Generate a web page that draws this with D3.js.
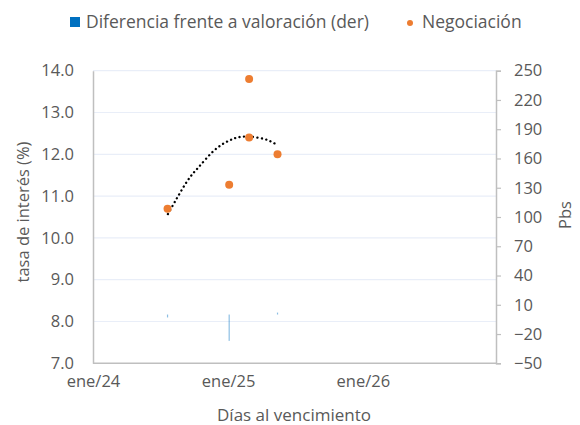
<!DOCTYPE html>
<html>
<head>
<meta charset="utf-8">
<script src="https://cdn.jsdelivr.net/npm/d3@7"></script>
<style>
body { margin: 0; background: #fff; }
text { font-family: "Open Sans", sans-serif; fill: #595959; }
</style>
</head>
<body>
<svg id="chart" width="580" height="425"></svg>
<script>
// Negociación (puntos) y Diferencia frente a valoración (barras, eje der)
var fechas = ["2024-07-21", "2025-01-04", "2025-02-27", "2025-02-27", "2025-05-15"];
var negociacion = [10.7, 11.27, 13.8, 12.4, 12.0];
var diferencia = [-3, -27, 0, 0, 2];

// linea de tendencia
var tendFechas = ["2024-07-22", "2024-09-11", "2024-10-13", "2024-11-24", "2025-01-02",
    "2025-01-30", "2025-03-02", "2025-04-11", "2025-05-11"];
var tendValores = [10.57, 11.34, 11.69, 12.09, 12.32, 12.41, 12.42, 12.36, 12.24];

var yTicks = [7, 8, 9, 10, 11, 12, 13, 14];
var y2Ticks = [-50, -20, 10, 40, 70, 100, 130, 160, 190, 220, 250];
var xTicks = ["2024-01-01", "2025-01-01", "2026-01-01"];

var parse = d3.timeParse("%Y-%m-%d");
var width = 580, height = 425;
var margin = { top: 70.7, right: 84, bottom: 61.7, left: 93 };

var svg = d3.select("#chart");

var x = d3.scaleTime()
    .domain([parse("2024-01-01"), parse("2026-12-28")])
    .range([margin.left, width - margin.right]);
var y = d3.scaleLinear().domain([7, 14]).range([height - margin.bottom, margin.top]);
var y2 = d3.scaleLinear().domain([-50, 250]).range([height - margin.bottom, margin.top]);

// gridlines
svg.append("g").selectAll("line").data(yTicks.slice(1)).join("line")
    .attr("x1", margin.left).attr("x2", width - margin.right)
    .attr("y1", function (d) { return y(d); }).attr("y2", function (d) { return y(d); })
    .attr("stroke", "#e9eef8").attr("stroke-width", 1.2);

// bars (eje derecho)
svg.append("g").selectAll("rect").data(diferencia).join("rect")
    .attr("x", function (d, i) { return x(parse(fechas[i])) - 0.6; })
    .attr("width", 1.2)
    .attr("y", function (d) { return Math.min(y2(d), y2(0)); })
    .attr("height", function (d) { return Math.abs(y2(d) - y2(0)); })
    .attr("fill", "#0070C0").attr("fill-opacity", 0.45);

// axes
var gLeft = svg.append("g").attr("transform", "translate(" + margin.left + ",0)")
    .call(d3.axisLeft(y).tickValues(yTicks).tickFormat(d3.format(".1f")).tickSize(0).tickPadding(19));
var gRight = svg.append("g").attr("transform", "translate(" + (width - margin.right) + ",0)")
    .call(d3.axisRight(y2).tickValues(y2Ticks).tickSize(5).tickPadding(13));
var gBottom = svg.append("g").attr("transform", "translate(0," + (height - margin.bottom) + ")")
    .call(d3.axisBottom(x).tickValues(xTicks.map(parse)).tickFormat(function (d) {
        return d3.timeFormat("ene/%y")(d);
    }).tickSize(0).tickPadding(12));

[gLeft, gRight, gBottom].forEach(function (g) {
    g.select(".domain").attr("stroke", "#bfbfbf").attr("stroke-width", 1.5);
    g.selectAll(".tick line").attr("stroke", "#bfbfbf").attr("stroke-width", 1.2);
    g.selectAll(".tick text").style("font-size", "16.5px").attr("fill", "#595959");
});
gBottom.select(".domain").attr("d", "M" + margin.left + ",0H" + (width - margin.right));

// trendline
svg.append("path")
    .datum(tendValores)
    .attr("d", d3.line()
        .x(function (d, i) { return x(parse(tendFechas[i])); })
        .y(function (d) { return y(d); })
        .curve(d3.curveNatural))
    .attr("fill", "none").attr("stroke", "#000").attr("stroke-width", 2.3)
    .attr("stroke-linecap", "round").attr("stroke-dasharray", "0.1 4.4");

// points
svg.append("g").selectAll("circle").data(negociacion).join("circle")
    .attr("cx", function (d, i) { return x(parse(fechas[i])); })
    .attr("cy", function (d) { return y(d); })
    .attr("r", 4).attr("fill", "#ED7D31");

// axis titles
svg.append("text").attr("transform", "translate(29,212) rotate(-90)")
    .attr("text-anchor", "middle").style("font-size", "16.5px").text("tasa de interés (%)");
svg.append("text").attr("transform", "translate(571,215) rotate(-90)")
    .attr("text-anchor", "middle").style("font-size", "16.5px").text("Pbs");
svg.append("text").attr("x", 294).attr("y", 421)
    .attr("text-anchor", "middle").style("font-size", "17px").text("Días al vencimiento");

// legend
var leg = svg.append("g");
leg.append("rect").attr("x", 70).attr("y", 17).attr("width", 10).attr("height", 10).attr("fill", "#0070C0");
leg.append("text").attr("x", 86).attr("y", 28).style("font-size", "17.5px").text("Diferencia frente a valoración (der)");
leg.append("circle").attr("cx", 410).attr("cy", 23).attr("r", 3).attr("fill", "#ED7D31");
leg.append("text").attr("x", 422).attr("y", 28).style("font-size", "17.5px").text("Negociación");
</script>
</body>
</html>
